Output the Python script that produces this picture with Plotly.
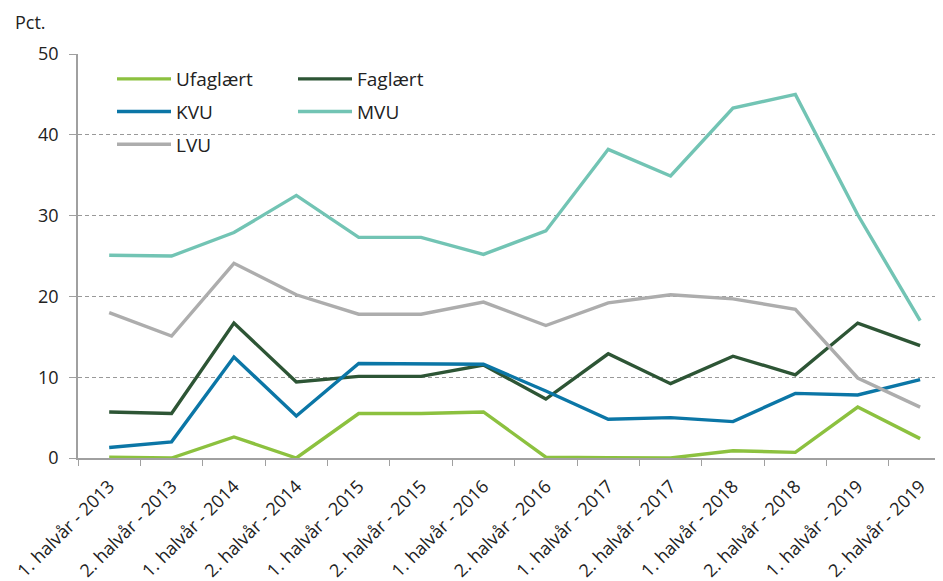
import plotly.graph_objects as go

categories = [
    "1. halvår - 2013", "2. halvår - 2013", "1. halvår - 2014", "2. halvår - 2014",
    "1. halvår - 2015", "2. halvår - 2015", "1. halvår - 2016", "2. halvår - 2016",
    "1. halvår - 2017", "2. halvår - 2017", "1. halvår - 2018", "2. halvår - 2018",
    "1. halvår - 2019", "2. halvår - 2019",
]
ufaglaert = [0.1, 0.0, 2.6, 0.0, 5.5, 5.5, 5.7, 0.1, 0.05, 0.0, 0.9, 0.7, 6.3, 2.4]
faglaert = [5.7, 5.5, 16.7, 9.4, 10.1, 10.1, 11.5, 7.3, 12.9, 9.2, 12.6, 10.3, 16.7, 13.9]
kvu = [1.3, 2.0, 12.5, 5.2, 11.7, 11.7, 11.6, 8.3, 4.8, 5.0, 4.5, 8.0, 7.8, 9.7]
mvu = [25.1, 25.0, 27.9, 32.5, 27.3, 27.3, 25.2, 28.1, 38.2, 34.9, 43.3, 45.0, 30.1, 17.0]
lvu = [18.0, 15.1, 24.1, 20.2, 17.8, 17.8, 19.3, 16.4, 19.2, 20.2, 19.7, 18.4, 9.9, 6.3]

series = [
    ("Ufaglært", ufaglaert, "#8CC13F", "legend"),
    ("Faglært", faglaert, "#2D5535", "legend2"),
    ("KVU", kvu, "#0B76A6", "legend"),
    ("MVU", mvu, "#72C4B4", "legend2"),
    ("LVU", lvu, "#ADADAD", "legend"),
]

FONT = "Open Sans"
TXT = "#222222"
OFF = 8  # page body margin
W, H = 943 - OFF, 581 - OFF
ML, MR, MT, MB = 78 - OFF, 0, 54 - OFF, 123
pw = W - ML - MR
ph = H - MT - MB

def px_x(sx):
    return (sx - OFF - ML) / pw

def px_y(sy):
    return (H - MB - (sy - OFF)) / ph

fig = go.Figure()
for name, vals, col, lg in series:
    fig.add_trace(go.Scatter(
        x=categories, y=vals, name=name, mode="lines",
        line=dict(color=col, width=3.4),
        legend=lg, legendgroup=name,
    ))

legend_common = dict(
    bgcolor="rgba(0,0,0,0)", borderwidth=0,
    font=dict(family=FONT, size=19, color=TXT),
    orientation="v", traceorder="grouped", tracegroupgap=5,
    itemwidth=54, xanchor="left", yanchor="top",
)

fig.update_layout(
    width=W, height=H,
    margin=dict(l=ML, r=MR, t=MT, b=MB, pad=0, autoexpand=False),
    paper_bgcolor="white", plot_bgcolor="white",
    font=dict(family=FONT, size=18, color=TXT),
    showlegend=True,
    legend=dict(x=px_x(112), y=px_y(60), **legend_common),
    legend2=dict(x=px_x(293), y=px_y(60), **legend_common),
    xaxis=dict(
        type="category", range=[-0.5, 13.367], automargin=False,
        showline=True, linecolor="#A0A0A0", linewidth=1.5,
        ticks="outside", tickson="boundaries", ticklen=6, tickcolor="#A0A0A0",
        tickangle=-45, showgrid=False, zeroline=False, ticklabelstandoff=9,
        tickfont=dict(family=FONT, size=18, color=TXT),
    ),
    yaxis=dict(
        range=[0, 50], dtick=10, tick0=0, automargin=False,
        showline=True, linecolor="#A0A0A0", linewidth=1.5,
        ticks="outside", ticklen=7, tickcolor="#A0A0A0",
        showgrid=True, gridcolor="#999999", gridwidth=1, griddash="4px,3px",
        zeroline=False, ticklabelstandoff=7,
        tickfont=dict(family=FONT, size=18, color=TXT),
    ),
    shapes=[dict(
        type="rect", xref="paper", yref="paper", layer="between",
        x0=px_x(92), x1=px_x(452), y0=px_y(162), y1=px_y(62),
        fillcolor="white", line=dict(width=0),
    )],
    annotations=[dict(
        text="Pct.", xref="paper", yref="paper",
        x=px_x(13), y=px_y(22), xanchor="left", yanchor="middle",
        showarrow=False, font=dict(family=FONT, size=18, color=TXT),
    )],
)

fig.write_html("out.html")
